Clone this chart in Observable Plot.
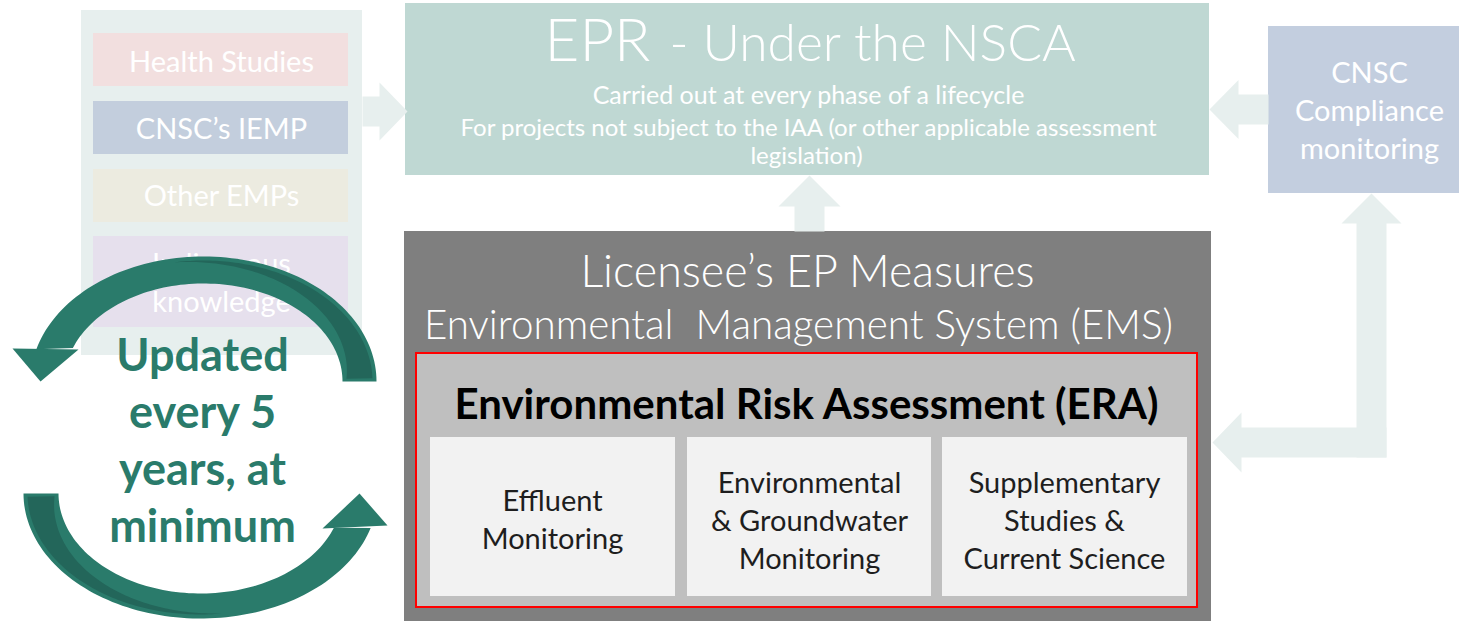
<!DOCTYPE html>
<html>
<head>
<meta charset="utf-8">
<script src="https://cdn.jsdelivr.net/npm/d3@7"></script>
<script src="https://cdn.jsdelivr.net/npm/@observablehq/plot@0.6"></script>
<style>
  html, body { margin: 0; padding: 0; background: #ffffff; overflow: hidden; }
  #chart svg { display: block; }
  #chart svg text { white-space: pre; }
</style>
</head>
<body>
<div id="chart"></div>
<script>
const W = 1459, H = 621;
const FONT = "Lato, 'Open Sans', sans-serif";

// ---------- Text content ----------
const sourceLabels = ["Health Studies", "CNSC’s IEMP", "Other EMPs", "Indigenous", "knowledge"];
const eprTitle = ["EPR", "- Under the NSCA"];
const eprLines = [
  "Carried out at every phase of a lifecycle",
  "For projects not subject to the IAA (or other applicable assessment",
  "legislation)"
];
const complianceLines = ["CNSC", "Compliance", "monitoring"];
const emsLines = ["Licensee’s EP Measures", "Environmental  Management System (EMS)"];
const eraTitle = ["Environmental Risk Assessment (ERA)"];
const eraComponents = [
  ["Effluent", "Monitoring"],
  ["Environmental", "& Groundwater", "Monitoring"],
  ["Supplementary", "Studies &", "Current Science"]
];
const cycleLines = ["Updated", "every 5", "years, at", "minimum"];

// ---------- Layout (pixel space of the diagram) ----------
const boxLayout = [
  {x1: 81,   y1: 10,  x2: 362,  y2: 355, fill: "#e7efee"},  // sources container
  {x1: 93,   y1: 33,  x2: 348,  y2: 86,  fill: "#f2dfdf"},  // Health Studies
  {x1: 93,   y1: 101, x2: 348,  y2: 154, fill: "#c3cedd"},  // CNSC's IEMP
  {x1: 93,   y1: 169, x2: 348,  y2: 222, fill: "#ecebe0"},  // Other EMPs
  {x1: 93,   y1: 236, x2: 348,  y2: 327, fill: "#e6e0ed"},  // Indigenous knowledge
  {x1: 405,  y1: 3,   x2: 1209, y2: 175, fill: "#bfd8d3"},  // EPR
  {x1: 1268, y1: 26,  x2: 1459, y2: 193, fill: "#c3cedf"},  // CNSC compliance
  {x1: 404,  y1: 231, x2: 1211, y2: 621, fill: "#7f7f7f"},  // EMS
  {x1: 416,  y1: 353, x2: 1197, y2: 607, fill: "#bfbfbf"},  // ERA
  {x1: 430,  y1: 437, x2: 675,  y2: 596, fill: "#f2f2f2"},  // Effluent
  {x1: 687,  y1: 437, x2: 931,  y2: 596, fill: "#f2f2f2"},  // Env & GW
  {x1: 942,  y1: 437, x2: 1187, y2: 596, fill: "#f2f2f2"}   // Supplementary
];
const eraFrame = [{x1: 416, y1: 353, x2: 1197, y2: 607}];

// straight block arrows: tail point, tip point, shaft width, head width, head length
const blockArrows = [
  {tail: [362, 111],  tip: [407, 111],  shaft: 30, head: 58, len: 28},
  {tail: [1268, 109], tip: [1209, 109], shaft: 30, head: 59, len: 29},
  {tail: [809, 231],  tip: [809, 175],  shaft: 30, head: 62, len: 31},
  {tail: [1371, 457], tip: [1371, 193], shaft: 30, head: 60, len: 30},
  {tail: [1386, 442], tip: [1212, 442], shaft: 30, head: 60, len: 29}
];

// circular "update cycle" arrows: ellipse centre, outer/inner radii, angle spans (deg), head triangle
const cycleArcs = [
  {cx: 203, cy: 381, rxO: 173, ryO: 125, rxI: 139, ryI: 98,
   outer: [0, 165], inner: [0, 160], dark: [1.5, 100],
   head: [[12, 348], [78, 349], [40, 381]]},
  {cx: 200, cy: 493, rxO: 177, ryO: 125, rxI: 142, ryI: 100,
   outer: [180, 344], inner: [180, 340], dark: [181.5, 278],
   head: [[322, 528], [387, 525], [359, 493]]}
];

// text placement: [x, baseline y]
const sourcePos = [[221, 71], [221, 138], [221, 205], [221, 273], [221, 311]];
const eprTitlePos = [[650, 60], [669, 60]];
const eprLinePos = [[808, 103], [808, 135], [806, 163]];
const compliancePos = [[1369, 82], [1369, 120], [1369, 158]];
const emsPos = [[807, 286], [798, 338]];
const eraTitlePos = [[806, 418]];
const componentPos = [
  [[552, 510], [552, 548]],
  [[809, 492], [809, 530], [809, 568]],
  [[1064, 492], [1064, 530], [1064, 568]]
];
const cyclePos = [[202, 370], [202, 427], [202, 484], [202, 541]];

// ---------- Geometry helpers ----------
function ellipse(cx, cy, rx, ry, t0, t1, n = 90) {
  const pts = [];
  for (let i = 0; i <= n; i++) {
    const t = (t0 + (t1 - t0) * i / n) * Math.PI / 180;
    pts.push([cx + rx * Math.cos(t), cy - ry * Math.sin(t)]);
  }
  return pts;
}
function blockArrowPolygon({tail, tip, shaft, head, len}) {
  const dx = tip[0] - tail[0], dy = tip[1] - tail[1];
  const L = Math.hypot(dx, dy), ux = dx / L, uy = dy / L, nx = -uy, ny = ux;
  const bx = tip[0] - ux * len, by = tip[1] - uy * len;
  const s = shaft / 2, h = head / 2;
  return [
    [tail[0] + nx * s, tail[1] + ny * s],
    [bx + nx * s, by + ny * s],
    [bx + nx * h, by + ny * h],
    tip,
    [bx - nx * h, by - ny * h],
    [bx - nx * s, by - ny * s],
    [tail[0] - nx * s, tail[1] - ny * s]
  ];
}
function arcBody(a) {
  const o = ellipse(a.cx, a.cy, a.rxO, a.ryO, a.outer[0], a.outer[1]);
  const i = ellipse(a.cx, a.cy, a.rxI, a.ryI, a.inner[0], a.inner[1]).reverse();
  return o.concat(i);
}
function arcDark(a) {
  const n = 90, inset = 4, [t0, t1] = a.dark;
  const o = ellipse(a.cx, a.cy, a.rxO - inset, a.ryO - inset, t0, t1, n);
  const inner = [];
  for (let k = 0; k <= n; k++) {
    const f = k / n;
    const t = (t0 + (t1 - t0) * f) * Math.PI / 180;
    const rx = (a.rxI + inset) + ((a.rxO - inset) - (a.rxI + inset)) * f;
    const ry = (a.ryI + inset) + ((a.ryO - inset) - (a.ryI + inset)) * f;
    inner.push([a.cx + rx * Math.cos(t), a.cy - ry * Math.sin(t)]);
  }
  return o.concat(inner.reverse());
}
function toRows(polys) {
  return polys.flatMap((pts, id) => pts.map(([x, y]) => ({id, x, y})));
}

const lightArrowRows = toRows(blockArrows.map(blockArrowPolygon));
const arcBodyRows = toRows(cycleArcs.flatMap(a => [arcBody(a), a.head]));
const arcDarkRows = toRows(cycleArcs.map(arcDark));

// ---------- Text rows ----------
const WHITE = "#ffffff";
const eprSizes = [25, 24, 24];
const textRows = [
  ...sourceLabels.map((t, i) => ({text: t, x: sourcePos[i][0], y: sourcePos[i][1], size: 29, color: WHITE})),
  ...eprLines.map((t, i) => ({text: t, x: eprLinePos[i][0], y: eprLinePos[i][1], size: eprSizes[i], color: WHITE})),
  ...complianceLines.map((t, i) => ({text: t, x: compliancePos[i][0], y: compliancePos[i][1], size: 29, color: WHITE})),
  ...eraComponents.flatMap((lines, j) => lines.map((t, i) => ({text: t, x: componentPos[j][i][0], y: componentPos[j][i][1], size: 29, color: "#1e1e1e"})))
];
const lightRows = emsLines.map((t, i) => ({text: t, x: emsPos[i][0], y: emsPos[i][1], size: i === 0 ? 44.8 : 40.4}));
const titleMain = [{text: eprTitle[0], x: eprTitlePos[0][0], y: eprTitlePos[0][1]}];
const titleRest = [{text: eprTitle[1], x: eprTitlePos[1][0], y: eprTitlePos[1][1]}];
const boldRows = [
  ...eraTitle.map((t, i) => ({text: t, x: eraTitlePos[i][0], y: eraTitlePos[i][1], size: 42, color: "#000000"})),
  ...cycleLines.map((t, i) => ({text: t, x: cyclePos[i][0], y: cyclePos[i][1], size: 45, color: "#2a7b6b"}))
];

const chart = Plot.plot({
  width: W,
  height: H,
  marginTop: 0, marginRight: 0, marginBottom: 0, marginLeft: 0,
  x: {type: "linear", domain: [0, W], range: [0, W], axis: null},
  y: {type: "linear", domain: [0, H], range: [0, H], axis: null},
  color: {type: "identity"},
  style: {fontFamily: FONT, background: "#ffffff"},
  marks: [
    Plot.rect(boxLayout, {x1: "x1", y1: "y1", x2: "x2", y2: "y2", fill: d => d.fill}),
    Plot.rect(eraFrame, {x1: "x1", y1: "y1", x2: "x2", y2: "y2", fill: "none", stroke: "#ff0000", strokeWidth: 2}),
    Plot.line(lightArrowRows, {x: "x", y: "y", z: "id", fill: "#e7efee", stroke: "none", curve: "linear"}),
    Plot.text(textRows, {x: "x", y: "y", text: "text", fontSize: d => d.size, fill: d => d.color,
      textAnchor: "middle", lineAnchor: "bottom", fontFamily: FONT}),
    Plot.text(lightRows, {x: "x", y: "y", text: "text", fontSize: d => d.size, fill: WHITE,
      textAnchor: "middle", lineAnchor: "bottom", fontWeight: 300, fontFamily: FONT}),
    Plot.text(titleMain, {x: "x", y: "y", text: "text", fontSize: 60, fill: WHITE,
      textAnchor: "end", lineAnchor: "bottom", fontWeight: 300, fontFamily: FONT}),
    Plot.text(titleRest, {x: "x", y: "y", text: "text", fontSize: 51.5, fill: WHITE,
      textAnchor: "start", lineAnchor: "bottom", fontWeight: 300, fontFamily: FONT}),
    Plot.line(arcBodyRows, {x: "x", y: "y", z: "id", fill: "#2a7b6b", stroke: "none", curve: "linear"}),
    Plot.line(arcDarkRows, {x: "x", y: "y", z: "id", fill: "#23665a", stroke: "none", curve: "linear"}),
    Plot.text(boldRows, {x: "x", y: "y", text: "text", fontSize: d => d.size, fill: d => d.color,
      textAnchor: "middle", lineAnchor: "bottom", fontWeight: "bold", fontFamily: FONT})
  ]
});
document.getElementById("chart").appendChild(chart);
</script>
</body>
</html>
